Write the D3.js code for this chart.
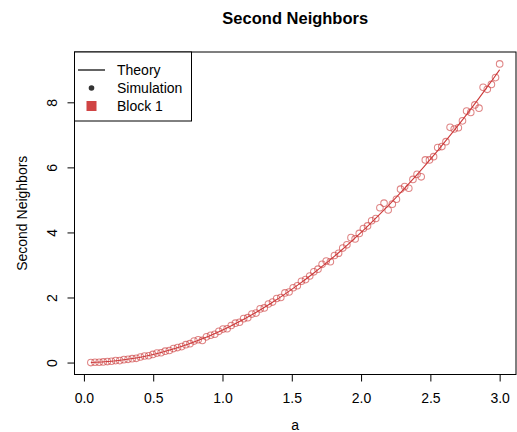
<!DOCTYPE html>
<html>
<head>
<meta charset="utf-8">
<script src="https://cdn.jsdelivr.net/npm/d3@7"></script>
<style>
  html, body { margin: 0; padding: 0; background: #fff; }
  svg { display: block; font-family: "Liberation Sans", Arial, Helvetica, sans-serif; }
</style>
</head>
<body>
<svg id="chart" width="517" height="432"></svg>
<script>
// Simulated second-neighbour counts against parameter a
const simA = [
  0.0500, 0.0798, 0.1096, 0.1394, 0.1692, 0.1990, 0.2288, 0.2586, 0.2884, 0.3182,
  0.3480, 0.3778, 0.4076, 0.4374, 0.4672, 0.4970, 0.5268, 0.5566, 0.5864, 0.6162,
  0.6460, 0.6758, 0.7056, 0.7354, 0.7652, 0.7949, 0.8247, 0.8545, 0.8843, 0.9141,
  0.9439, 0.9737, 1.0035, 1.0333, 1.0631, 1.0929, 1.1227, 1.1525, 1.1823, 1.2121,
  1.2419, 1.2717, 1.3015, 1.3313, 1.3611, 1.3909, 1.4207, 1.4505, 1.4803, 1.5101,
  1.5399, 1.5697, 1.5995, 1.6293, 1.6591, 1.6889, 1.7187, 1.7485, 1.7783, 1.8081,
  1.8379, 1.8677, 1.8975, 1.9273, 1.9571, 1.9869, 2.0167, 2.0465, 2.0763, 2.1061,
  2.1359, 2.1657, 2.1955, 2.2253, 2.2551, 2.2848, 2.3146, 2.3444, 2.3742, 2.4040,
  2.4338, 2.4636, 2.4934, 2.5232, 2.5530, 2.5828, 2.6126, 2.6424, 2.6722, 2.7020,
  2.7318, 2.7616, 2.7914, 2.8212, 2.8510, 2.8808, 2.9106, 2.9404, 2.9702, 3.0000
];
const simValues = [
  0.00, 0.01, 0.01, 0.02, 0.03, 0.04, 0.06, 0.06, 0.09, 0.10,
  0.12, 0.13, 0.17, 0.20, 0.21, 0.25, 0.29, 0.30, 0.35, 0.37,
  0.43, 0.46, 0.49, 0.55, 0.58, 0.66, 0.70, 0.68, 0.79, 0.84,
  0.87, 0.96, 1.03, 1.04, 1.14, 1.21, 1.24, 1.35, 1.38, 1.49,
  1.52, 1.65, 1.68, 1.80, 1.86, 1.97, 2.00, 2.14, 2.17, 2.30,
  2.36, 2.50, 2.55, 2.66, 2.79, 2.87, 3.02, 3.12, 3.10, 3.29,
  3.36, 3.52, 3.62, 3.84, 3.80, 3.97, 4.12, 4.20, 4.36, 4.43,
  4.76, 4.90, 4.69, 4.87, 5.02, 5.33, 5.41, 5.36, 5.63, 5.79,
  5.71, 6.23, 6.23, 6.33, 6.61, 6.64, 6.79, 7.23, 7.18, 7.22,
  7.43, 7.73, 7.69, 7.92, 7.82, 8.46, 8.40, 8.55, 8.76, 9.18
];

// Theoretical curve, sampled along a
const theoryA = [
  0.05, 0.15, 0.25, 0.35, 0.45, 0.55, 0.65, 0.75, 0.85, 0.95,
  1.05, 1.15, 1.25, 1.35, 1.45, 1.55, 1.65, 1.75, 1.85, 1.95,
  2.05, 2.15, 2.25, 2.35, 2.45, 2.55, 2.65, 2.75, 2.85, 2.95, 3.00
];
const theoryValues = [
  0.0025, 0.0225, 0.0625, 0.1225, 0.2025, 0.3025, 0.4225, 0.5625, 0.7225, 0.9025,
  1.1025, 1.3225, 1.5625, 1.8225, 2.1025, 2.4025, 2.7225, 3.0625, 3.4225, 3.8025,
  4.2025, 4.6225, 5.0625, 5.5225, 6.0025, 6.5025, 7.0225, 7.5625, 8.1225, 8.7025, 9.0000
];

const xTicks = [0, 0.5, 1, 1.5, 2, 2.5, 3];
const yTicks = [0, 2, 4, 6, 8];
const legendLabels = ["Theory", "Simulation", "Block 1"];

const plot = { left: 74.5, right: 516, top: 52, bottom: 374.5 };
const red = "#cc3a3a";

// Pad each data range by 4%, as base graphics does
function padded(ext) {
  const d = (ext[1] - ext[0]) * 0.04;
  return [ext[0] - d, ext[1] + d];
}

const x = d3.scaleLinear().domain(padded(d3.extent(simA))).range([plot.left, plot.right]);
const y = d3.scaleLinear().domain(padded(d3.extent(simValues))).range([plot.bottom, plot.top]);

const svg = d3.select("#chart");

// Title
svg.append("text")
  .attr("x", (plot.left + plot.right) / 2)
  .attr("y", 24)
  .attr("text-anchor", "middle")
  .attr("font-size", 16.5)
  .attr("font-weight", "bold")
  .text("Second Neighbors");

// Theory line
const theory = theoryA.map((a, i) => [a, theoryValues[i]]);
svg.append("path")
  .datum(theory)
  .attr("fill", "none")
  .attr("stroke", red)
  .attr("stroke-width", 1.1)
  .attr("d", d3.line().x(d => x(d[0])).y(d => y(d[1])).curve(d3.curveNatural));

// Simulation points
svg.append("g")
  .selectAll("circle")
  .data(simA.map((a, i) => [a, simValues[i]]))
  .join("circle")
  .attr("cx", d => x(d[0]))
  .attr("cy", d => y(d[1]))
  .attr("r", 3.3)
  .attr("fill", "none")
  .attr("stroke", "rgba(204,58,58,0.62)")
  .attr("stroke-width", 1.05);

// Axes
const xAxis = svg.append("g")
  .attr("transform", `translate(0,${plot.bottom})`)
  .call(d3.axisBottom(x).tickValues(xTicks).tickFormat(d3.format(".1f")).tickSizeOuter(0).tickSize(7).tickPadding(12));
xAxis.selectAll("text").attr("font-size", 14).attr("fill", "#000").attr("font-family", null);
xAxis.selectAll("line").attr("stroke", "#000");
xAxis.select(".domain").attr("stroke", "#000")
  .attr("d", `M${x(0)},0H${x(3)}`);

const yAxis = svg.append("g")
  .attr("transform", `translate(${plot.left},0)`)
  .call(d3.axisLeft(y).tickValues(yTicks).tickFormat(d3.format("d")).tickSizeOuter(0).tickSize(7));
yAxis.selectAll("line").attr("stroke", "#000");
yAxis.select(".domain").attr("stroke", "#000")
  .attr("d", `M0,${y(0)}V${y(8)}`);
yAxis.selectAll("text")
  .attr("font-size", 14).attr("fill", "#000").attr("font-family", null)
  .attr("x", null)
  .attr("text-anchor", "middle")
  .attr("transform", "translate(-22,0) rotate(-90)")
  .attr("dy", "0.35em");

// Plot frame
svg.append("rect")
  .attr("x", plot.left).attr("y", plot.top)
  .attr("width", plot.right - plot.left).attr("height", plot.bottom - plot.top)
  .attr("fill", "none").attr("stroke", "#000").attr("stroke-width", 1);

// Axis titles
svg.append("text")
  .attr("x", (plot.left + plot.right) / 2).attr("y", 430)
  .attr("text-anchor", "middle").attr("font-size", 14)
  .text("a");
svg.append("text")
  .attr("transform", `translate(27,${(plot.top + plot.bottom) / 2}) rotate(-90)`)
  .attr("text-anchor", "middle").attr("font-size", 14)
  .text("Second Neighbors");

// Legend
const lg = svg.append("g");
lg.append("rect")
  .attr("x", plot.left).attr("y", plot.top)
  .attr("width", 117).attr("height", 69)
  .attr("fill", "#fff").attr("stroke", "#000").attr("stroke-width", 1);
const rowY = [70, 88, 106];
lg.append("line")
  .attr("x1", 78).attr("x2", 105).attr("y1", rowY[0]).attr("y2", rowY[0])
  .attr("stroke", "#222").attr("stroke-width", 1.4);
lg.append("circle")
  .attr("cx", 91.5).attr("cy", rowY[1]).attr("r", 2.8).attr("fill", "#333");
lg.append("rect")
  .attr("x", 86.5).attr("y", rowY[2] - 5).attr("width", 10).attr("height", 10)
  .attr("fill", "#d04444");
lg.selectAll("text.lbl")
  .data(legendLabels)
  .join("text")
  .attr("class", "lbl")
  .attr("x", 117)
  .attr("y", (d, i) => rowY[i])
  .attr("dy", "0.35em")
  .attr("font-size", 14)
  .text(d => d);
</script>
</body>
</html>
